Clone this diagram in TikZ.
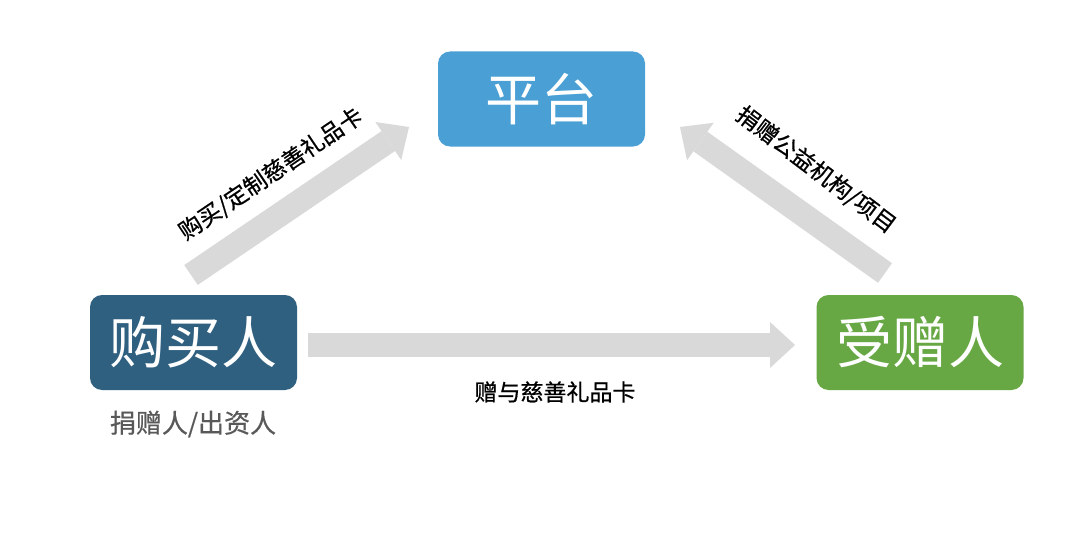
\documentclass[tikz,border=0pt]{standalone}
\usepackage{fontspec}
\setmainfont{Noto Sans CJK SC}
\newfontfamily\labfont[FakeBold=0.6]{Noto Sans CJK SC}
\usetikzlibrary{arrows.meta}
\definecolor{platblue}{HTML}{4A9FD4}
\definecolor{buyerblue}{HTML}{2F6080}
\definecolor{recgreen}{HTML}{68A844}
\definecolor{arrowgray}{HTML}{D9D9D9}
\definecolor{subgray}{HTML}{595959}
\tikzset{
  rolebox/.style={rounded corners=12pt, minimum width=207pt, minimum height=95pt,
    inner sep=0pt, text=white, font=\fontsize{56}{56}\selectfont},
  flow/.style={draw=arrowgray, line width=24pt,
    -{Triangle[width=46pt,length=25pt,line width=0pt]}},
  flowlabel/.style={font=\labfont\fontsize{23}{23}\selectfont, text=black, inner sep=0pt},
}
\begin{document}
\begin{tikzpicture}[x=1pt,y=-1pt]
\useasboundingbox (0,0) rectangle (1080,543);
\fill[white] (0,0) rectangle (1080,543);

\node[rolebox, fill=platblue] (plat) at (541.5,99) {平台};
\node[rolebox, fill=buyerblue] (buyer) at (193.5,342.5) {购买人};
\node[rolebox, fill=recgreen] (rec) at (920,342.5) {受赠人};

\node[font=\labfont\fontsize{26}{26}\selectfont, text=subgray, inner sep=0pt] (buyersub) at (193,424) {捐赠人/出资人};

\coordinate (l1) at (191,275);
\coordinate (l2) at (409,127);
\coordinate (r1) at (885,273);
\coordinate (r2) at (680,127);
\coordinate (h1) at (308,345);
\coordinate (h2) at (795,345);

\draw[flow] (l1) -- (l2);
\draw[flow] (r1) -- (r2);
\draw[flow] (h1) -- (h2);

\node[flowlabel, rotate=34] (llab) at (271,174) {购买/定制慈善礼品卡};
\node[flowlabel, rotate=-37] (rlab) at (816,170) {捐赠公益机构/项目};
\node[flowlabel] (hlab) at (555,392) {赠与慈善礼品卡};
\end{tikzpicture}
\end{document}
